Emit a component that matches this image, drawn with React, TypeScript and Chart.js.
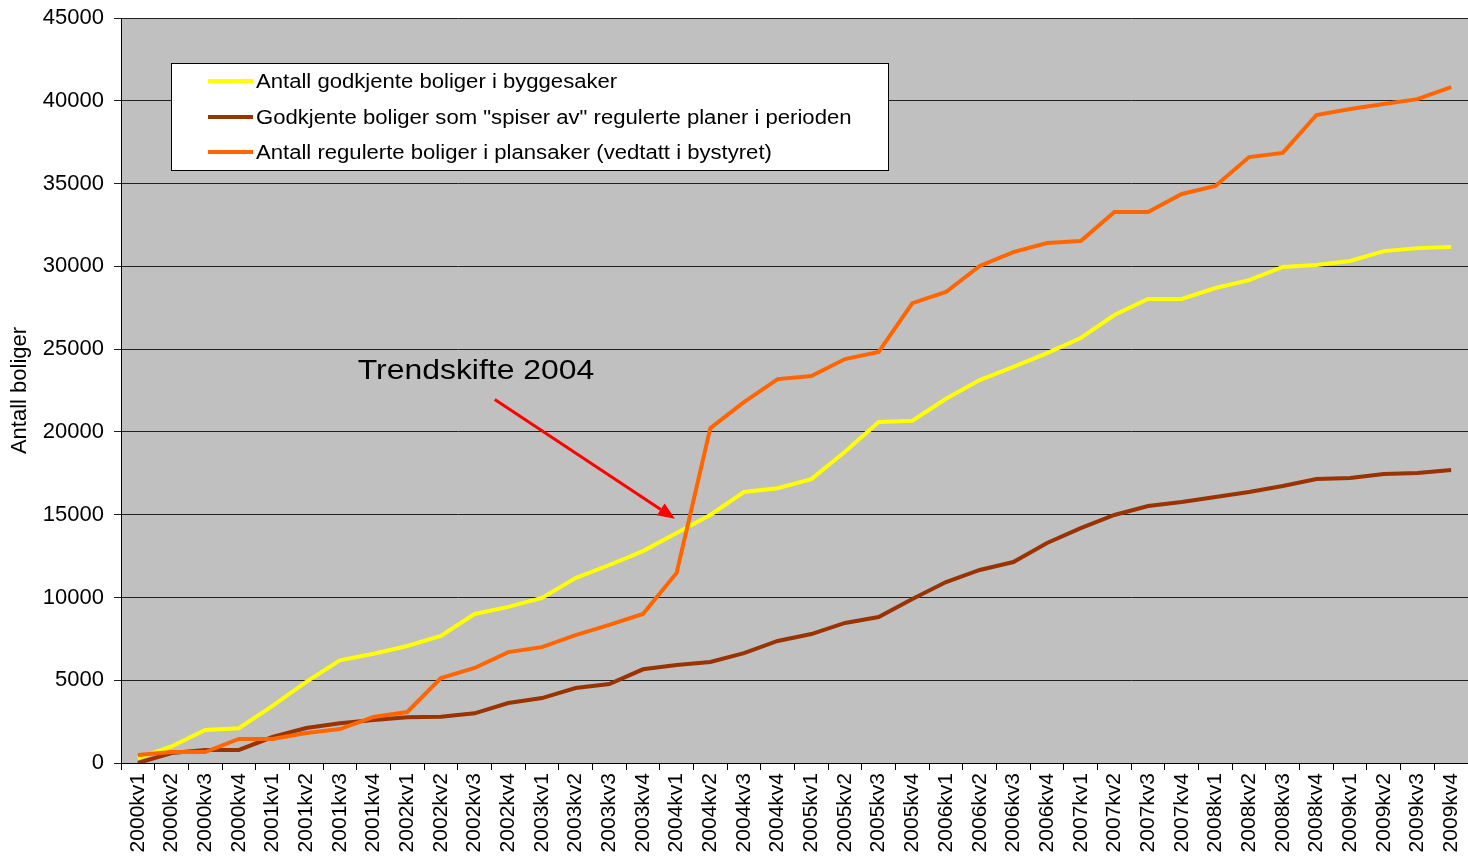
import React, { useEffect, useRef } from 'react';
import { Chart, registerables } from 'chart.js';

Chart.register(...registerables);

const quarters = [
  '2000kv1', '2000kv2', '2000kv3', '2000kv4',
  '2001kv1', '2001kv2', '2001kv3', '2001kv4',
  '2002kv1', '2002kv2', '2002kv3', '2002kv4',
  '2003kv1', '2003kv2', '2003kv3', '2003kv4',
  '2004kv1', '2004kv2', '2004kv3', '2004kv4',
  '2005kv1', '2005kv2', '2005kv3', '2005kv4',
  '2006kv1', '2006kv2', '2006kv3', '2006kv4',
  '2007kv1', '2007kv2', '2007kv3', '2007kv4',
  '2008kv1', '2008kv2', '2008kv3', '2008kv4',
  '2009kv1', '2009kv2', '2009kv3', '2009kv4',
];

const godkjenteByggesaker = [
  300, 1000, 1990, 2100, 3450, 4900, 6200, 6600, 7070, 7670,
  9000, 9430, 9970, 11170, 11960, 12800, 13890, 14980, 16370, 16600,
  17150, 18800, 20600, 20670, 22000, 23130, 23930, 24760, 25670, 27060,
  28030, 28030, 28690, 29170, 29960, 30080, 30320, 30920, 31100, 31170,
];

const spiserAv = [
  0, 600, 790, 790, 1570, 2110, 2400, 2600, 2760, 2790,
  3000, 3620, 3920, 4530, 4770, 5660, 5920, 6100, 6640, 7370,
  7790, 8460, 8820, 9910, 10930, 11660, 12140, 13290, 14190, 14980,
  15520, 15760, 16070, 16370, 16730, 17150, 17210, 17450, 17510, 17700,
];

const regulerteBoliger = [
  480, 660, 660, 1450, 1450, 1810, 2050, 2780, 3080, 5130,
  5740, 6700, 7000, 7730, 8340, 9000, 11480, 20230, 21800, 23190,
  23380, 24400, 24830, 27780, 28450, 30020, 30860, 31410, 31530, 33280,
  33280, 34370, 34850, 36600, 36850, 39140, 39500, 39800, 40100, 40830,
];

const seriesNames = [
  'Antall godkjente boliger i byggesaker',
  'Godkjente boliger som "spiser av" regulerte planer i perioden',
  'Antall regulerte boliger i plansaker (vedtatt i bystyret)',
];
const seriesColors = ['#FFFF00', '#993300', '#FF6600'];

const yTicks = [0, 5000, 10000, 15000, 20000, 25000, 30000, 35000, 40000, 45000];

const annotationText = 'Trendskifte 2004';

const FONT = '"Liberation Sans", Arial, sans-serif';

function stretchedText(ctx: any, text: string, x: number, y: number, sx: number) {
  ctx.save();
  ctx.translate(x, y);
  ctx.scale(sx, 1);
  ctx.fillText(text, 0, 0);
  ctx.restore();
}

const decorPlugin = {
  id: 'decor',
  beforeDraw(chart: any) {
    const { ctx, chartArea: a } = chart;
    ctx.save();
    ctx.fillStyle = '#C0C0C0';
    ctx.fillRect(a.left, a.top, a.right - a.left, a.bottom - a.top);
    ctx.restore();
  },
  afterDraw(chart: any) {
    const { ctx, chartArea: a, scales } = chart;
    const xs = scales.x;
    const ys = scales.y;
    ctx.save();

    // Legend box
    const bx = a.left + 50;
    const by = a.top + 45;
    const bw = 717;
    const bh = 107;
    ctx.fillStyle = '#FFFFFF';
    ctx.fillRect(bx, by, bw, bh);
    ctx.strokeStyle = '#000000';
    ctx.lineWidth = 1;
    ctx.strokeRect(bx + 0.5, by + 0.5, bw, bh);
    const rows = [18, 54, 89];
    ctx.font = `20px ${FONT}`;
    ctx.textBaseline = 'middle';
    ctx.textAlign = 'left';
    seriesNames.forEach((name, i) => {
      const ry = by + rows[i];
      ctx.strokeStyle = seriesColors[i];
      ctx.lineWidth = 4;
      ctx.beginPath();
      ctx.moveTo(bx + 37, ry);
      ctx.lineTo(bx + 82, ry);
      ctx.stroke();
      ctx.fillStyle = '#000000';
      stretchedText(ctx, name, bx + 85, ry + 1, 1.105);
    });

    // Annotation text
    ctx.font = `28px ${FONT}`;
    ctx.fillStyle = '#000000';
    ctx.textBaseline = 'middle';
    stretchedText(ctx, annotationText, xs.getPixelForValue(6.53), ys.getPixelForValue(23680), 1.14);

    // Arrow
    const x1 = xs.getPixelForValue(10.6);
    const y1 = ys.getPixelForValue(21950);
    const x2 = xs.getPixelForValue(15.95);
    const y2 = ys.getPixelForValue(14750);
    const ang = Math.atan2(y2 - y1, x2 - x1);
    const headLen = 17;
    const headW = 7;
    const bxp = x2 - headLen * Math.cos(ang);
    const byp = y2 - headLen * Math.sin(ang);
    ctx.strokeStyle = '#FF0000';
    ctx.fillStyle = '#FF0000';
    ctx.lineWidth = 3;
    ctx.beginPath();
    ctx.moveTo(x1, y1);
    ctx.lineTo(bxp, byp);
    ctx.stroke();
    ctx.beginPath();
    ctx.moveTo(x2, y2);
    ctx.lineTo(bxp + headW * Math.sin(ang), byp - headW * Math.cos(ang));
    ctx.lineTo(bxp - headW * Math.sin(ang), byp + headW * Math.cos(ang));
    ctx.closePath();
    ctx.fill();

    ctx.restore();
  },
};

export default function App() {
  const canvasRef = useRef<HTMLCanvasElement | null>(null);

  useEffect(() => {
    if (!canvasRef.current) return;
    const chart = new Chart(canvasRef.current, {
      type: 'line',
      data: {
        labels: quarters,
        datasets: [
          {
            label: seriesNames[0],
            data: godkjenteByggesaker,
            borderColor: seriesColors[0],
            backgroundColor: seriesColors[0],
            borderWidth: 4,
            pointRadius: 0,
            tension: 0,
            order: 2,
          },
          {
            label: seriesNames[1],
            data: spiserAv,
            borderColor: seriesColors[1],
            backgroundColor: seriesColors[1],
            borderWidth: 4,
            pointRadius: 0,
            tension: 0,
            order: 1,
          },
          {
            label: seriesNames[2],
            data: regulerteBoliger,
            borderColor: seriesColors[2],
            backgroundColor: seriesColors[2],
            borderWidth: 4,
            pointRadius: 0,
            tension: 0,
            order: 0,
          },
        ],
      },
      options: {
        responsive: false,
        animation: false,
        layout: { padding: { top: 18, right: 0, left: 0, bottom: 0 } },
        plugins: {
          legend: { display: false },
          tooltip: { enabled: false },
        },
        scales: {
          x: {
            type: 'category',
            offset: true,
            grid: {
              offset: true,
              drawOnChartArea: false,
              drawTicks: true,
              tickLength: 7,
              color: '#000000',
            },
            border: { display: true, color: '#000000', width: 1 },
            ticks: {
              autoSkip: false,
              maxRotation: 90,
              minRotation: 90,
              padding: 3,
              color: '#000000',
              font: { family: FONT, size: 21 },
            },
            afterFit: (s: any) => {
              s.height = 93;
              s.paddingLeft = 0;
              s.paddingRight = 0;
            },
          },
          y: {
            min: 0,
            max: 45000,
            afterBuildTicks: (s: any) => {
              s.ticks = yTicks.map((v) => ({ value: v }));
            },
            grid: {
              color: '#202020',
              lineWidth: 1,
              drawTicks: true,
              tickLength: 7,
            },
            border: { display: true, color: '#000000', width: 1 },
            ticks: {
              padding: 10,
              color: '#000000',
              font: { family: FONT, size: 22 },
              callback: (v: any) => String(v),
            },
            title: {
              display: true,
              text: 'Antall boliger',
              color: '#000000',
              font: { family: FONT, size: 22 },
              padding: { top: 7, bottom: 0 },
            },
            afterFit: (s: any) => {
              s.width = 121;
              s.paddingTop = 0;
              s.paddingBottom = 0;
            },
          },
        },
      },
      plugins: [decorPlugin],
    } as any);
    return () => chart.destroy();
  }, []);

  return (
    <div style={{ position: 'absolute', left: 0, top: 0, width: 1468, height: 856, background: '#FFFFFF' }}>
      <canvas ref={canvasRef} width={1468} height={856} style={{ display: 'block' }} />
    </div>
  );
}
